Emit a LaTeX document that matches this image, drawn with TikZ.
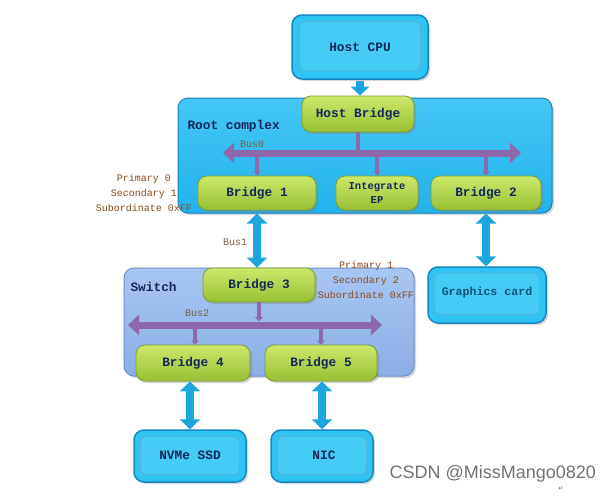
\documentclass[tikz,border=0pt]{standalone}
\usepackage{fontspec}
\setmonofont{Liberation Mono}
\newfontfamily\wmfont{Liberation Sans}
\newfontfamily\symfont{DejaVu Sans}
\usetikzlibrary{arrows.meta,shadows}
\definecolor{rcfill}{HTML}{22B3EC}
\definecolor{rctop}{HTML}{45C6F6}
\definecolor{rcedge}{HTML}{1682BA}
\definecolor{swtop}{HTML}{A8C6F2}
\definecolor{swbot}{HTML}{8AAEE6}
\definecolor{swedge}{HTML}{6E92CC}
\definecolor{cyanfill}{HTML}{30C4F4}
\definecolor{cyanedge}{HTML}{1488C0}
\definecolor{cyaninner}{HTML}{45CCF6}
\definecolor{greentop}{HTML}{CDE86A}
\definecolor{greenbot}{HTML}{98C034}
\definecolor{greenedge}{HTML}{7E9E30}
\definecolor{busc}{HTML}{8D68AC}
\definecolor{arrowc}{HTML}{1CA6DE}
\definecolor{navy}{HTML}{14285A}
\definecolor{labc}{HTML}{8A4A1E}
\definecolor{busl}{HTML}{7A6040}
\tikzset{
  greenbox/.style={rectangle, rounded corners=9pt, draw=greenedge, line width=0.8pt,
    top color=greentop, bottom color=greenbot, text=navy,
    font=\ttfamily\bfseries\fontsize{12.8}{14}\selectfont,
    drop shadow={opacity=0.35, shadow xshift=2pt, shadow yshift=-2pt}},
  container/.style={rectangle, rounded corners=10pt, line width=1pt,
    drop shadow={opacity=0.3, shadow xshift=2pt, shadow yshift=-2pt}},
  cyanbox/.style={rectangle, rounded corners=10pt, draw=cyanedge, line width=1.5pt,
    fill=cyanfill, text=navy, font=\ttfamily\bfseries\fontsize{12.8}{14}\selectfont,
    drop shadow={opacity=0.3, shadow xshift=2pt, shadow yshift=-2pt}},
  innerframe/.style={rounded corners=7pt, draw=cyanedge!70, line width=0.8pt, fill=cyaninner},
  bus/.style={draw=busc, line width=7pt, {Triangle[width=20pt,length=11pt]}-{Triangle[width=20pt,length=11pt]}},
  tap/.style={draw=busc, line width=4.5pt, -{Triangle[width=8pt,length=4pt]}},
  tapn/.style={draw=busc, line width=4.5pt},
  blockarrow/.style={draw=arrowc, line width=8pt, {Triangle[width=20pt,length=10pt]}-{Triangle[width=20pt,length=10pt]}},
  downarrow/.style={draw=arrowc, line width=8pt, -{Triangle[width=18pt,length=9pt]}},
  labtext/.style={text=labc, font=\ttfamily\fontsize{10}{15}\selectfont, align=center},
  buslabel/.style={text=busl, font=\ttfamily\fontsize{10}{12}\selectfont},
  title/.style={text=navy, font=\ttfamily\bfseries\fontsize{12.8}{14}\selectfont, anchor=west}
}
\begin{document}
\begin{tikzpicture}[x=1pt,y=-1pt]
\useasboundingbox[fill=white] (0,0) rectangle (615,496);

% containers
\node[container, draw=rcedge, top color=rctop, bottom color=rcfill, minimum width=374pt, minimum height=115pt] (rc) at (365,155.5) {};
\node[title] (rclab) at (184,126) {Root complex};
\node[container, draw=swedge, top color=swtop, bottom color=swbot, minimum width=290pt, minimum height=108pt] (sw) at (269,322) {};
\node[title] (swlab) at (127,287) {Switch};

% outer cyan boxes
\node[cyanbox, minimum width=136pt, minimum height=64pt] (cpu) at (360,47) {};
\draw[innerframe] ([xshift=8pt,yshift=-7pt]cpu.north west) rectangle ([xshift=-8pt,yshift=9pt]cpu.south east);
\node[text=navy, font=\ttfamily\bfseries\fontsize{12.8}{14}\selectfont] (cputxt) at (cpu) {Host CPU};

\node[cyanbox, minimum width=118pt, minimum height=56pt] (gc) at (487,295) {};
\draw[innerframe] ([xshift=7pt,yshift=-7pt]gc.north west) rectangle ([xshift=-7pt,yshift=9pt]gc.south east);
\node[text=navy!80!cyan, font=\ttfamily\bfseries\fontsize{11.6}{13}\selectfont] (gctxt) at (487,292) {Graphics card};

\node[cyanbox, minimum width=112pt, minimum height=52pt] (nvme) at (190,456) {};
\draw[innerframe] ([xshift=7pt,yshift=-7pt]nvme.north west) rectangle ([xshift=-7pt,yshift=8pt]nvme.south east);
\node[text=navy, font=\ttfamily\bfseries\fontsize{12.8}{14}\selectfont] (nvmetxt) at (190,455) {NVMe SSD};

\node[cyanbox, minimum width=102pt, minimum height=52pt] (nic) at (322,456) {};
\draw[innerframe] ([xshift=7pt,yshift=-7pt]nic.north west) rectangle ([xshift=-7pt,yshift=8pt]nic.south east);
\node[text=navy, font=\ttfamily\bfseries\fontsize{12.8}{14}\selectfont] (nictxt) at (324,455) {NIC};

% bus coordinates
\coordinate (bus0L) at (223,153);
\coordinate (bus0R) at (521,153);
\coordinate (bus2L) at (128,325);
\coordinate (bus2R) at (382,325);

% green bridges
\node[greenbox, minimum width=112pt, minimum height=36pt] (hb) at (358,114) {Host Bridge};
\node[greenbox, minimum width=118pt, minimum height=34pt] (b1) at (257,193) {Bridge 1};
\node[greenbox, minimum width=82pt, minimum height=34pt, align=center, font=\ttfamily\bfseries\fontsize{10.5}{14}\selectfont] (iep) at (377,193) {Integrate\\EP};
\node[greenbox, minimum width=110pt, minimum height=34pt] (b2) at (486,193) {Bridge 2};
\node[greenbox, minimum width=112pt, minimum height=34pt] (b3) at (259,285) {Bridge 3};
\node[greenbox, minimum width=114pt, minimum height=36pt] (b4) at (193,363) {Bridge 4};
\node[greenbox, minimum width=112pt, minimum height=36pt] (b5) at (321,363) {Bridge 5};

% buses
\draw[bus] (bus0L) -- (bus0R);
\draw[tapn] (hb.south) -- (hb.south |- bus0L);
\draw[tap] ([yshift=-3pt]bus0L -| b1.north) -- (b1.north);
\draw[tap] ([yshift=-3pt]bus0L -| iep.north) -- (iep.north);
\draw[tap] ([yshift=-3pt]bus0L -| b2.north) -- (b2.north);
\node[buslabel] (bus0lab) at (252,144) {Bus0};

\draw[bus] (bus2L) -- (bus2R);
\draw[tap] (b3.south) -- ([yshift=4pt]b3.south |- bus2L);
\draw[tap] ([yshift=-3pt]bus2L -| 195,0) coordinate (t4) -- (t4 |- b4.north);
\draw[tap] ([yshift=-3pt]bus2L -| b5.north) -- (b5.north);
\node[buslabel] (bus2lab) at (197,313) {Bus2};

% block arrows
\draw[downarrow] ([yshift=-1pt]cpu.south) -- (cpu.south |- hb.north);
\draw[blockarrow] (b1.south |- rc.south) -- (b1.south |- b3.north);
\node[buslabel] (bus1lab) at (235,242) {Bus1};
\draw[blockarrow] (b2.south |- rc.south) -- (b2.south |- gc.north);
\draw[blockarrow] (nvme.north |- b4.south) -- (nvme.north);
\draw[blockarrow] (nic.north |- b5.south) -- (nic.north);

% register labels
\node[labtext] (reg0) at (144,193) {Primary 0\\Secondary 1\\Subordinate 0xFF};
\node[labtext] (reg1) at (366,280) {Primary 1\\Secondary 2\\Subordinate 0xFF};

% watermark
\node[text=black!55, font=\wmfont\fontsize{18}{20}\selectfont, anchor=west] (wm) at (386,474) {CSDN @MissMango0820};
\node[text=black!60, font=\symfont\fontsize{6}{7}\selectfont] (ret) at (561,489) {↵};
\end{tikzpicture}
\end{document}
